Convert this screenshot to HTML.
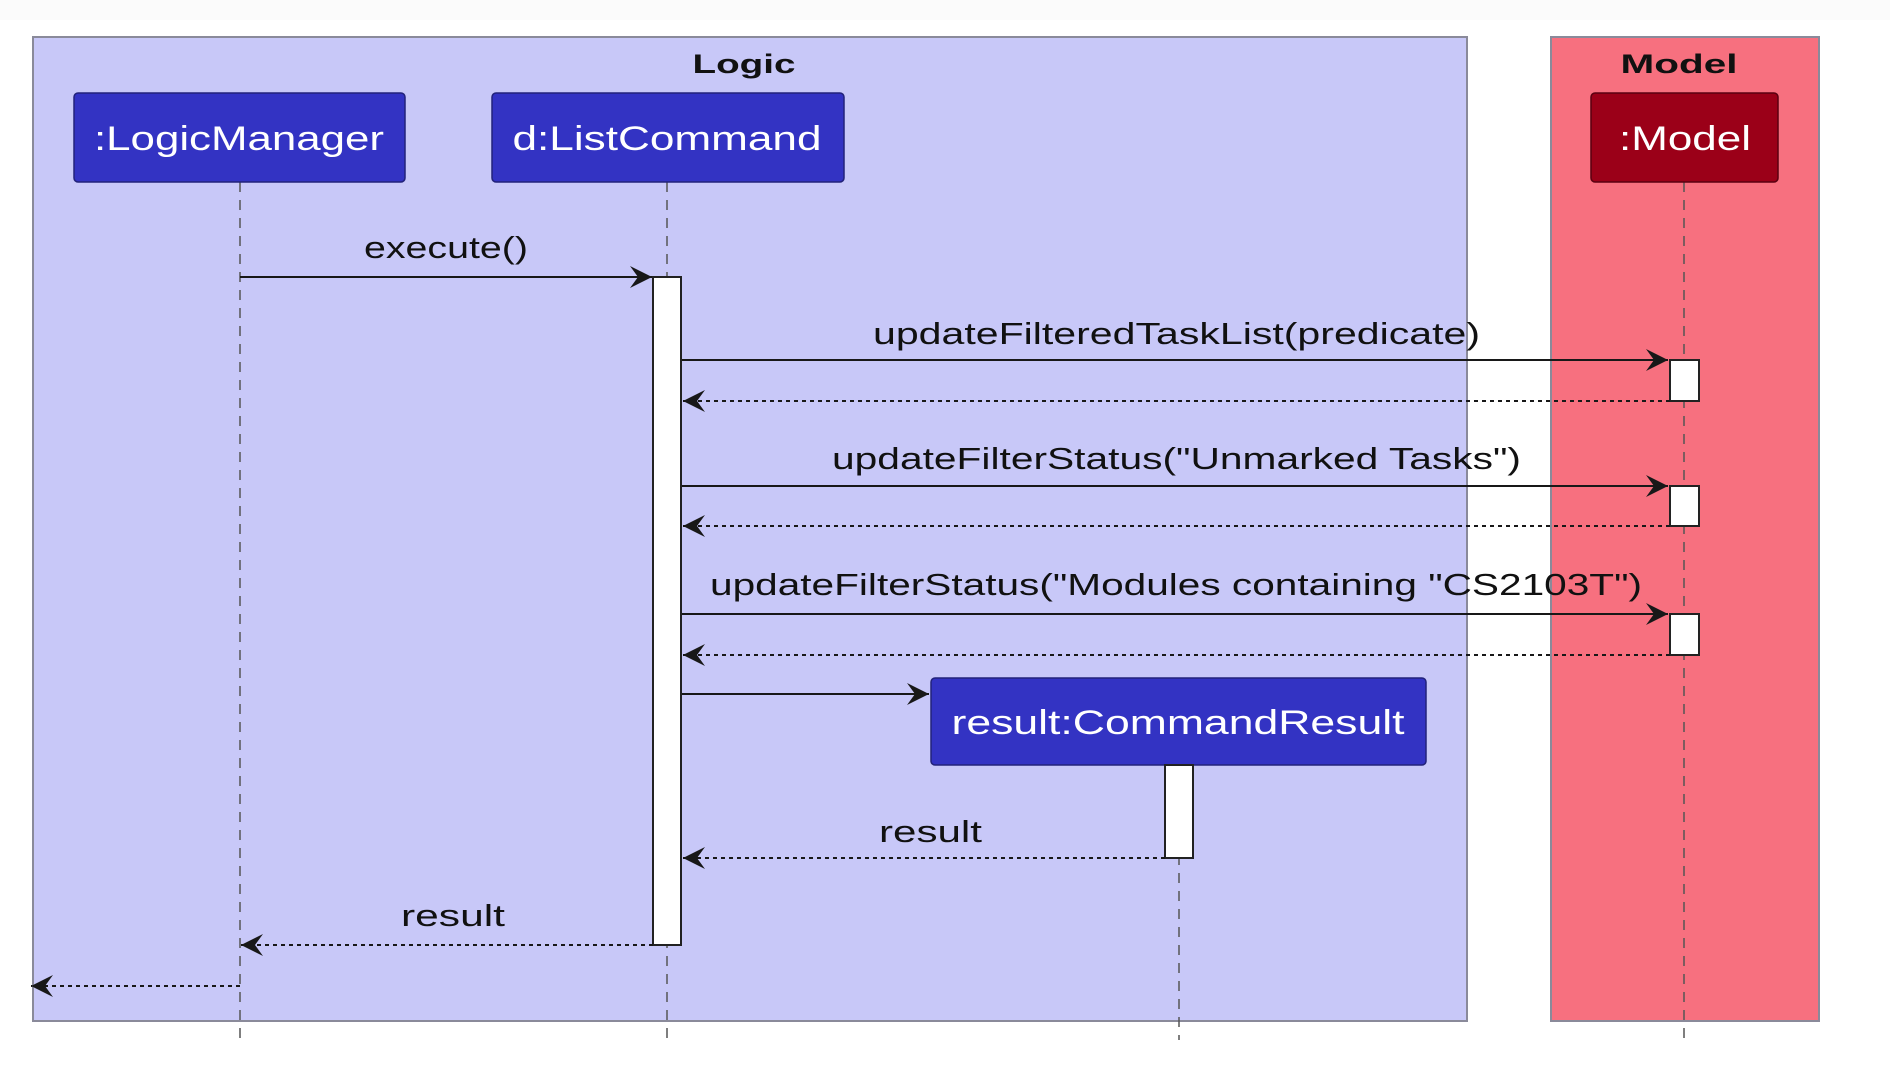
<!DOCTYPE html>
<html><head><meta charset="utf-8"><style>
html,body{margin:0;padding:0;background:#fff;}
svg{display:block;}
text{font-family:"Liberation Sans","DejaVu Sans",sans-serif;}
</style></head><body>
<svg width="1890" height="1090" viewBox="0 0 1890 1090" xmlns="http://www.w3.org/2000/svg">
<defs>
<marker id="ah" viewBox="0 0 22 22" refX="22" refY="11" markerWidth="22" markerHeight="22" markerUnits="userSpaceOnUse" orient="auto">
<polygon points="0,0 22,11 0,22 8,11" fill="#181818"/>
</marker>
</defs>
<rect x="0" y="0" width="1890" height="20" fill="#fbfbfb"/>
<rect x="33" y="37" width="1434" height="984" fill="#c8c8f8" stroke="#8a8a9a" stroke-width="2"/>
<text x="744" y="73" font-size="27" font-weight="bold" text-anchor="middle" fill="#111" textLength="103" lengthAdjust="spacingAndGlyphs">Logic</text>
<rect x="1551" y="37" width="268" height="984" fill="#f7707f" stroke="#8a8a9a" stroke-width="2"/>
<text x="1679" y="73" font-size="27" font-weight="bold" text-anchor="middle" fill="#111" textLength="117" lengthAdjust="spacingAndGlyphs">Model</text>

<g stroke="#555" stroke-width="1.5" stroke-dasharray="10,8">
<line x1="240" y1="182" x2="240" y2="1040"/>
<line x1="667" y1="182" x2="667" y2="1040"/>
<line x1="1179" y1="765" x2="1179" y2="1040"/>
<line x1="1684" y1="182" x2="1684" y2="1040"/>
</g>

<rect x="74" y="93" width="331" height="89" rx="4" fill="#3333c3" stroke="#22227a" stroke-width="1.5"/>
<text x="239" y="150" font-size="34" fill="#fff" text-anchor="middle" textLength="290" lengthAdjust="spacingAndGlyphs">:LogicManager</text>
<rect x="492" y="93" width="352" height="89" rx="4" fill="#3333c3" stroke="#22227a" stroke-width="1.5"/>
<text x="667" y="150" font-size="34" fill="#fff" text-anchor="middle" textLength="309" lengthAdjust="spacingAndGlyphs">d:ListCommand</text>
<rect x="1591" y="93" width="187" height="89" rx="4" fill="#9b0018" stroke="#5a0010" stroke-width="1.5"/>
<text x="1685" y="150" font-size="34" fill="#fff" text-anchor="middle" textLength="132" lengthAdjust="spacingAndGlyphs">:Model</text>
<rect x="931" y="678" width="495" height="87" rx="4" fill="#3333c3" stroke="#22227a" stroke-width="1.5"/>
<text x="1178" y="734" font-size="34" fill="#fff" text-anchor="middle" textLength="453" lengthAdjust="spacingAndGlyphs">result:CommandResult</text>

<g fill="#fff" stroke="#222" stroke-width="2">
<rect x="653" y="277" width="28" height="668"/>
<rect x="1670" y="360" width="29" height="41"/>
<rect x="1670" y="486" width="29" height="40"/>
<rect x="1670" y="614" width="29" height="41"/>
<rect x="1165" y="765" width="28" height="93"/>
</g>

<g stroke="#181818" stroke-width="2" fill="none">
<line x1="240" y1="277" x2="652" y2="277" marker-end="url(#ah)"/>
<line x1="682" y1="360" x2="1668" y2="360" marker-end="url(#ah)"/>
<line x1="682" y1="486" x2="1668" y2="486" marker-end="url(#ah)"/>
<line x1="682" y1="614" x2="1668" y2="614" marker-end="url(#ah)"/>
<line x1="682" y1="694" x2="929" y2="694" marker-end="url(#ah)"/>
</g>
<g stroke="#181818" stroke-width="2" fill="none" stroke-dasharray="4,4">
<line x1="1670" y1="401" x2="683" y2="401" marker-end="url(#ah)"/>
<line x1="1670" y1="526" x2="683" y2="526" marker-end="url(#ah)"/>
<line x1="1670" y1="655" x2="683" y2="655" marker-end="url(#ah)"/>
<line x1="1165" y1="858" x2="683" y2="858" marker-end="url(#ah)"/>
<line x1="653" y1="945" x2="241" y2="945" marker-end="url(#ah)"/>
<line x1="240" y1="986" x2="31" y2="986" marker-end="url(#ah)"/>
</g>

<g font-size="31" fill="#111">
<text x="364" y="258" textLength="164" lengthAdjust="spacingAndGlyphs">execute()</text>
<text x="873" y="344" textLength="607" lengthAdjust="spacingAndGlyphs">updateFilteredTaskList(predicate)</text>
<text x="832" y="469" textLength="689" lengthAdjust="spacingAndGlyphs">updateFilterStatus("Unmarked Tasks")</text>
<text x="710" y="595" textLength="932" lengthAdjust="spacingAndGlyphs">updateFilterStatus("Modules containing "CS2103T")</text>
<text x="879" y="842" textLength="103" lengthAdjust="spacingAndGlyphs">result</text>
<text x="401" y="926" textLength="104" lengthAdjust="spacingAndGlyphs">result</text>
</g>
</svg>
</body></html>
